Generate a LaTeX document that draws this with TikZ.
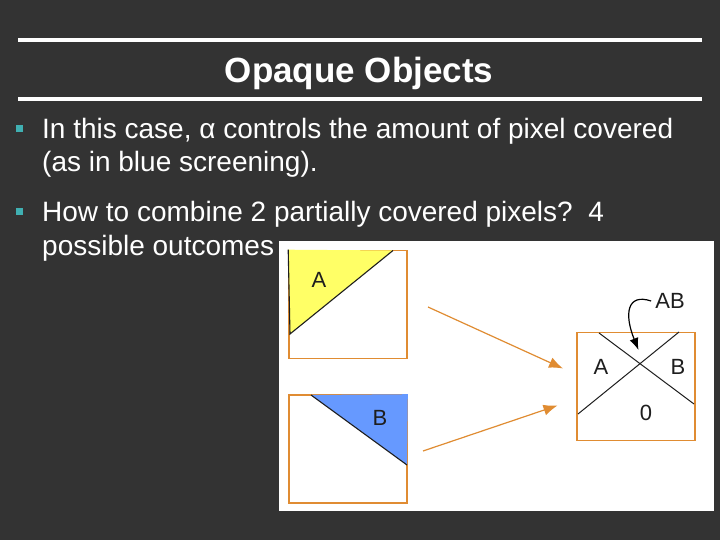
\documentclass[tikz,border=0pt]{standalone}
\usepackage{fontspec}
\setmainfont{Liberation Sans}
\usetikzlibrary{arrows.meta,positioning}
\definecolor{slidebg}{RGB}{51,51,51}
\definecolor{bulletteal}{RGB}{64,176,178}
\definecolor{pxorange}{RGB}{224,140,50}
\definecolor{pxyellow}{RGB}{255,255,102}
\definecolor{pxblue}{RGB}{102,153,255}
\definecolor{inkgray}{RGB}{30,30,30}

\begin{document}
\begin{tikzpicture}[x=1pt,y=-1pt,>=Latex]
\tikzstyle{bodytext}=[anchor=base west,inner sep=0pt,text=white,font=\fontsize{28}{33}\selectfont]
\tikzstyle{bulletsq}=[fill=bulletteal,minimum size=7.5pt,inner sep=0pt]
\tikzstyle{pixbox}=[draw=pxorange,line width=1.6pt,minimum width=118pt,minimum height=108pt,inner sep=0pt]
\tikzstyle{pixlabel}=[text=inkgray,font=\fontsize{22}{22}\selectfont,inner sep=0pt]
\tikzstyle{pixarrow}=[-{Latex[length=14pt,width=11pt]},pxorange,line width=1.2pt]
\tikzstyle{rule}=[white,line width=3.2pt]
% slide background
\fill[slidebg] (0,0) rectangle (720,540);
\useasboundingbox (0,0) rectangle (720,540);
% title
\draw[rule] (18,40) -- (702,40);
\draw[rule] (18,99) -- (702,99);
\node[anchor=base,inner sep=0pt,text=white,font=\fontsize{35}{35}\selectfont\bfseries] (title) at (359,83) {Opaque Objects};
% bullets
\node[bulletsq] (b1) at (19.5,128.5) {};
\node[bodytext] (t1a) at (42,139) {In this case, α controls the amount of pixel covered};
\node[bodytext] (t1b) at (42,172) {(as in blue screening).};
\node[bulletsq] (b2) at (19.5,211.5) {};
\node[bodytext] (t2a) at (42,222) {How to combine 2 partially covered pixels?\ \ 4};
\node[bodytext] (t2b) at (42,255) {possible outcomes};
% picture panel
\fill[white] (279,241) rectangle (714,511);
\node[pixbox] (boxA) at (348,304.5) {};
\node[pixbox] (boxB) at (348,449) {};
\node[pixbox] (boxR) at (636,386.5) {};
\fill[pxyellow] (boxA.north west) -- (393,250.5) -- (290,334) -- cycle;
\draw[inkgray,line width=1.1pt] (393,250.5) -- (290,334) -- (boxA.north west);
\fill[pxblue] (311,395) -- (boxB.north east) -- (407,465) -- cycle;
\draw[inkgray,line width=1.1pt] (311,395) -- (407,465);
\node[pixlabel] (la) at (319,280) {A};
\node[pixlabel] (lb) at (380,418) {B};
% crossing lines in result pixel
\coordinate (x1) at (599,333);
\coordinate (x2) at (694,404);
\coordinate (y1) at (679,332);
\coordinate (y2) at (578,414);
\draw[inkgray,line width=1pt] (x1) -- (x2);
\draw[inkgray,line width=1pt] (y1) -- (y2);
\node[pixlabel] (ra) at (601,367) {A};
\node[pixlabel] (rb) at (678,367) {B};
\node[pixlabel] (r0) at (646,413) {0};
\node[pixlabel] (rab) at (670,301) {AB};
\coordinate (hit) at (638.5,350);
\draw[-{Latex[length=12pt,width=9pt]},black,line width=1.2pt] ([xshift=-4pt]rab.west) .. controls (627,293) and (624,314) .. (hit);
% arrows
\coordinate (fromA) at (428,307);
\coordinate (toA) at (563,368.5);
\coordinate (fromB) at (423,451);
\coordinate (toB) at (557.5,405.5);
\draw[pixarrow] (fromA) -- (toA);
\draw[pixarrow] (fromB) -- (toB);
\end{tikzpicture}
\end{document}
